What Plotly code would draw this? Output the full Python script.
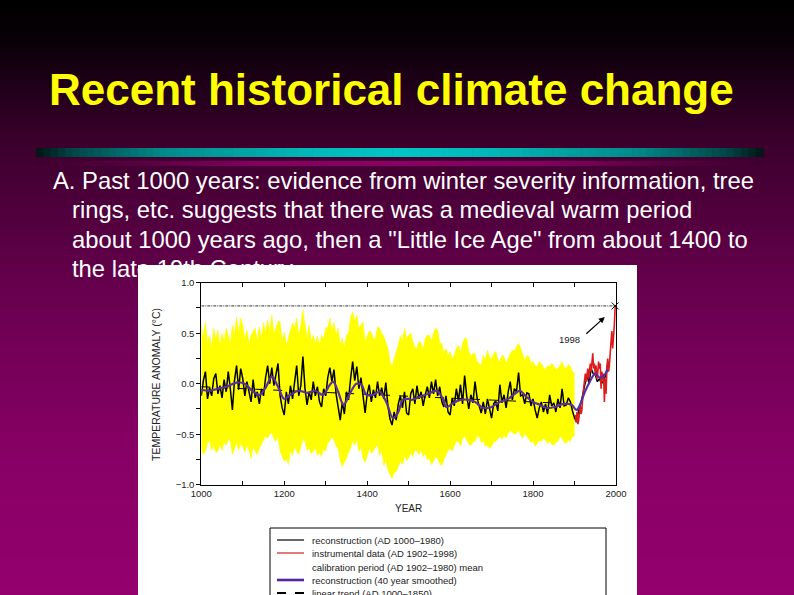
import plotly.graph_objects as go

W, H = 794, 595

# ---------------- data ----------------
recon_years = list(range(1000, 1981, 5))
recon = [
    -0.12, 0.03, 0.12, -0.15, -0.04, -0.12, 0.05, 0.10, -0.10, -0.02,
    -0.14, 0.04, -0.08, 0.12, -0.05, -0.26, 0.03, 0.18, -0.06, 0.15,
    0.05, -0.12, 0.02, -0.10, -0.18, 0.04, -0.14, -0.08, -0.20, -0.05,
    -0.12, 0.06, 0.18, 0.00, 0.16, -0.02, 0.10, 0.20, -0.12, -0.24,
    -0.31, -0.08, -0.20, -0.02, -0.15, 0.05, 0.18, -0.12, -0.02, 0.27,
    -0.05, -0.21, -0.08, -0.16, 0.02, -0.12, -0.03, -0.18, -0.23, -0.05,
    -0.12, 0.06, 0.16, 0.02, 0.14, -0.10, -0.22, -0.36, -0.18, -0.30,
    -0.08, -0.16, 0.05, 0.22, 0.03, 0.17, -0.05, 0.06, -0.12, -0.29,
    -0.10, -0.01, -0.18, -0.06, -0.14, 0.02, -0.12, -0.04, -0.15, 0.01,
    -0.22, -0.35, -0.41, -0.28, -0.36, -0.20, -0.12, -0.24, -0.08, -0.29,
    -0.31, -0.10, -0.05, -0.20, -0.02, -0.15, -0.08, -0.22, -0.11, -0.03,
    -0.14, 0.02, -0.10, 0.04, -0.12, -0.03, -0.18, -0.23, -0.12, -0.28,
    -0.31, -0.14, -0.22, -0.05, -0.17, -0.01, -0.20, 0.08, -0.12, -0.25,
    -0.11, -0.19, 0.02, -0.14, -0.22, -0.29, -0.18, -0.30, -0.15, -0.26,
    -0.34, -0.20, -0.17, -0.27, -0.01, -0.19, -0.11, -0.24, -0.08, 0.02,
    -0.16, -0.05, -0.08, 0.11, -0.12, -0.11, -0.20, -0.09, -0.10, -0.22,
    -0.15, -0.26, -0.34, -0.24, -0.18, -0.28, -0.20, -0.30, -0.11, -0.22,
    -0.19, -0.28, -0.15, -0.24, -0.05, -0.22, -0.21, -0.14, -0.18, -0.27,
    -0.34, -0.38, -0.26, -0.20, -0.11, -0.02, 0.09, 0.00, 0.15, 0.10,
    0.09, 0.02, 0.05, 0.00, 0.03, 0.08, 0.20,
]

band_years = list(range(1000, 1901, 5))
band_upper = [
    0.58, 0.45, 0.61, 0.40, 0.48, 0.36, 0.55, 0.44, 0.53, 0.38,
    0.50, 0.42, 0.55, 0.47, 0.40, 0.58, 0.48, 0.66, 0.50, 0.65,
    0.58, 0.44, 0.53, 0.40, 0.48, 0.52, 0.55, 0.42, 0.56, 0.45,
    0.61, 0.50, 0.63, 0.52, 0.68, 0.50, 0.55, 0.62, 0.61, 0.42,
    0.51, 0.38, 0.45, 0.52, 0.60, 0.55, 0.65, 0.48, 0.58, 0.73,
    0.60, 0.45, 0.58, 0.42, 0.48, 0.40, 0.47, 0.38, 0.48, 0.44,
    0.56, 0.55, 0.65, 0.52, 0.61, 0.48, 0.55, 0.38, 0.45, 0.36,
    0.48, 0.50, 0.66, 0.71, 0.62, 0.68, 0.55, 0.58, 0.61, 0.42,
    0.48, 0.52, 0.51, 0.44, 0.45, 0.56, 0.55, 0.50, 0.47, 0.40,
    0.35, 0.22, 0.17, 0.25, 0.32, 0.38, 0.48, 0.42, 0.55, 0.45,
    0.48, 0.50, 0.42, 0.36, 0.35, 0.42, 0.40, 0.34, 0.45, 0.48,
    0.48, 0.42, 0.50, 0.55, 0.53, 0.40, 0.40, 0.30, 0.35, 0.28,
    0.32, 0.25, 0.28, 0.35, 0.38, 0.30, 0.40, 0.45, 0.45, 0.32,
    0.27, 0.30, 0.30, 0.22, 0.20, 0.18, 0.28, 0.24, 0.33, 0.26,
    0.25, 0.30, 0.32, 0.24, 0.22, 0.28, 0.27, 0.20, 0.25, 0.30,
    0.33, 0.32, 0.37, 0.40, 0.35, 0.28, 0.23, 0.28, 0.27, 0.20,
    0.22, 0.18, 0.17, 0.22, 0.20, 0.16, 0.14, 0.18, 0.17, 0.20,
    0.18, 0.14, 0.15, 0.18, 0.22, 0.16, 0.15, 0.19, 0.17, 0.12,
    0.10,
]
band_lower = [
    -0.64, -0.70, -0.67, -0.58, -0.57, -0.66, -0.61, -0.68, -0.67, -0.60,
    -0.66, -0.58, -0.61, -0.55, -0.57, -0.70, -0.64, -0.58, -0.66, -0.60,
    -0.62, -0.68, -0.61, -0.66, -0.74, -0.62, -0.67, -0.70, -0.64, -0.60,
    -0.57, -0.52, -0.54, -0.50, -0.48, -0.55, -0.57, -0.52, -0.67, -0.72,
    -0.77, -0.74, -0.80, -0.66, -0.71, -0.62, -0.67, -0.70, -0.62, -0.55,
    -0.57, -0.66, -0.64, -0.69, -0.67, -0.64, -0.71, -0.68, -0.72, -0.64,
    -0.67, -0.58, -0.57, -0.52, -0.56, -0.62, -0.64, -0.76, -0.82, -0.78,
    -0.74, -0.68, -0.64, -0.56, -0.61, -0.55, -0.67, -0.62, -0.74, -0.78,
    -0.71, -0.64, -0.69, -0.66, -0.64, -0.60, -0.71, -0.66, -0.81, -0.76,
    -0.85, -0.90, -0.94, -0.88, -0.87, -0.82, -0.77, -0.80, -0.71, -0.76,
    -0.74, -0.68, -0.72, -0.66, -0.67, -0.70, -0.66, -0.72, -0.69, -0.75,
    -0.74, -0.80, -0.77, -0.72, -0.74, -0.79, -0.81, -0.75, -0.71, -0.66,
    -0.64, -0.67, -0.61, -0.57, -0.57, -0.62, -0.54, -0.52, -0.56, -0.60,
    -0.61, -0.58, -0.57, -0.52, -0.52, -0.58, -0.57, -0.62, -0.61, -0.64,
    -0.62, -0.58, -0.57, -0.54, -0.52, -0.55, -0.51, -0.54, -0.49, -0.46,
    -0.48, -0.50, -0.49, -0.46, -0.51, -0.54, -0.49, -0.52, -0.54, -0.58,
    -0.57, -0.62, -0.59, -0.56, -0.57, -0.54, -0.56, -0.59, -0.57, -0.60,
    -0.61, -0.58, -0.57, -0.52, -0.54, -0.58, -0.59, -0.56, -0.57, -0.52,
    -0.52,
]

smooth_years = [1000, 1020, 1040, 1060, 1085, 1105, 1120, 1140, 1155, 1170,
                1185, 1200, 1215, 1235, 1255, 1275, 1293, 1310, 1318, 1330,
                1343, 1358, 1374, 1386, 1398, 1414, 1430, 1446, 1462, 1474,
                1486, 1500, 1507, 1527, 1547, 1567, 1580, 1591, 1608, 1625,
                1645, 1660, 1680, 1700, 1720, 1740, 1756, 1768, 1784, 1800,
                1817, 1833, 1853, 1873, 1893, 1905, 1913, 1925, 1937, 1950,
                1961, 1973, 1980]
smooth = [-0.06, -0.07, -0.05, -0.03, 0.01, 0.00, -0.06, -0.11, -0.04, 0.07,
          -0.03, -0.15, -0.11, -0.07, -0.09, -0.07, -0.11, -0.01, 0.02, -0.08,
          -0.21, -0.10, 0.00, -0.01, -0.11, -0.11, -0.08, -0.18, -0.34, -0.29,
          -0.16, -0.15, -0.16, -0.13, -0.10, -0.07, -0.13, -0.23, -0.19, -0.16,
          -0.16, -0.18, -0.24, -0.23, -0.18, -0.15, -0.10, -0.07, -0.13, -0.18,
          -0.21, -0.24, -0.23, -0.20, -0.21, -0.26, -0.21, -0.08, 0.02, 0.10,
          0.06, 0.09, 0.14]

instr_years = list(range(1902, 1999, 2))
instr = [
    -0.31, -0.38, -0.28, -0.40, -0.36, -0.30, -0.22, -0.30, -0.25, -0.12,
    -0.05, 0.05, 0.10, 0.02, 0.08, 0.15, 0.05, 0.12, 0.20, 0.12,
    0.25, 0.30, 0.15, 0.20, 0.08, 0.18, 0.05, 0.10, 0.22, 0.15,
    0.20, -0.05, 0.12, 0.02, 0.10, -0.18, 0.05, -0.10, 0.15, 0.25,
    0.12, 0.18, 0.30, 0.40, 0.52, 0.35, 0.45, 0.58, 0.77,
]

trend_years = [1000, 1850]
trend = [-0.03, -0.19]

level_years = [1000, 2000]
level_1998 = 0.77
peak_year = 1998

x_ticks = [1000, 1200, 1400, 1600, 1800, 2000]
x_ticktext = ["1000", "1200", "1400", "1600", "1800", "2000"]
y_ticks = [-1.0, -0.5, 0.0, 0.5, 1.0]
y_ticktext = ["\u22121.0", "\u22120.5", "0.0", "0.5", "1.0"]

title_text = "Recent historical climate change"
body_lines = [
    "A. Past 1000 years: evidence from winter severity information, tree",
    "rings, etc. suggests that there was a medieval warm period",
    "about 1000 years ago, then a \"Little Ice Age\" from about 1400 to",
    "the late 19th Century",
]
legend_labels = [
    "reconstruction (AD 1000\u20131980)",
    "instrumental data (AD 1902\u20131998)",
    "calibration period (AD 1902\u20131980) mean",
    "reconstruction (40 year smoothed)",
    "linear trend (AD 1000\u20131850)",
]

# ---------------- helpers ----------------
def px(x):
    return x / W


def py(y):
    return 1 - y / H


def interp_color(stops, t):
    for (t0, c0), (t1, c1) in zip(stops[:-1], stops[1:]):
        if t0 <= t <= t1:
            f = 0 if t1 == t0 else (t - t0) / (t1 - t0)
            c = [round(a + (b - a) * f) for a, b in zip(c0, c1)]
            return "rgb(%d,%d,%d)" % tuple(c)
    c = stops[-1][1] if t > stops[-1][0] else stops[0][1]
    return "rgb(%d,%d,%d)" % tuple(c)


FONT = "Liberation Sans, Arial, sans-serif"
shapes = []

# slide background gradient
bg_stops = [(0, (0, 0, 0)), (40, (8, 0, 6)), (100, (38, 0, 30)), (150, (62, 0, 46)),
            (300, (106, 0, 80)), (450, (135, 0, 100)), (595, (148, 0, 110))]
step = 4
for y in range(0, H, step):
    shapes.append(dict(type="rect", xref="paper", yref="paper", x0=0, x1=1,
                       y0=py(y + step + 1), y1=py(y), fillcolor=interp_color(bg_stops, y + step / 2),
                       line=dict(width=0), layer="below"))

# cyan divider bar
bx0, bx1 = 36, 763
cyan_stops = [(0, (0, 20, 20)), (0.05, (0, 70, 70)), (0.18, (0, 140, 140)), (0.38, (0, 185, 185)),
              (0.5, (0, 198, 198)), (0.62, (0, 185, 185)), (0.82, (0, 140, 140)), (0.95, (0, 70, 70)),
              (1, (0, 20, 20))]
nseg = 100
segw = (bx1 - bx0) / nseg
for i in range(nseg):
    x0 = bx0 + i * segw
    shapes.append(dict(type="rect", xref="paper", yref="paper", x0=px(x0), x1=px(x0 + segw + 0.6),
                       y0=py(157), y1=py(148), fillcolor=interp_color(cyan_stops, (i + 0.5) / nseg),
                       line=dict(width=0), layer="below"))
# magenta glow below it
mag_stops = [(0, (62, 0, 46)), (0.15, (90, 0, 66)), (0.3, (130, 0, 95)), (0.5, (140, 0, 100)),
             (0.7, (130, 0, 95)), (0.85, (90, 0, 66)), (1, (62, 0, 46))]
for i in range(nseg):
    x0 = bx0 + i * segw
    shapes.append(dict(type="rect", xref="paper", yref="paper", x0=px(x0), x1=px(x0 + segw + 0.6),
                       y0=py(166), y1=py(161), fillcolor=interp_color(mag_stops, (i + 0.5) / nseg),
                       line=dict(width=0), layer="below"))

# legend box (manual)
shapes.append(dict(type="rect", xref="paper", yref="paper", x0=px(270), x1=px(606),
                   y0=py(620), y1=py(528), line=dict(color="black", width=1),
                   fillcolor="rgba(0,0,0,0)", layer="above"))
legend_rows = [540, 553, 567, 580, 593]
legend_styles = [dict(color="black", width=1.2), dict(color="#cc2222", width=1.2), None,
                 dict(color="#5526a0", width=2.6), dict(color="black", width=2, dash="dash")]
annotations = []
for yy, sty, lab in zip(legend_rows, legend_styles, legend_labels):
    if sty is not None:
        shapes.append(dict(type="line", xref="paper", yref="paper", x0=px(277), x1=px(304),
                           y0=py(yy), y1=py(yy), line=sty, layer="above"))
    annotations.append(dict(xref="paper", yref="paper", x=px(310), y=py(yy), text=lab,
                            showarrow=False, xanchor="left", yanchor="middle",
                            font=dict(family=FONT, size=9.5, color="#222")))

# title
annotations.append(dict(xref="paper", yref="paper", x=px(47), y=py(89), text="<b>%s</b>" % title_text,
                        showarrow=False, xanchor="left", yanchor="middle",
                        font=dict(family=FONT, size=44, color="#ffff00")))
# axis titles
annotations.append(dict(xref="paper", yref="paper", x=px(408), y=py(508), text="YEAR",
                        showarrow=False, xanchor="center", yanchor="middle",
                        font=dict(family=FONT, size=10, color="#222")))
annotations.append(dict(xref="paper", yref="paper", x=px(156), y=py(385),
                        text="TEMPERATURE ANOMALY (\u00b0C)", textangle=-90,
                        showarrow=False, xanchor="center", yanchor="middle",
                        font=dict(family=FONT, size=10.5, color="#222")))
# 1998 label and arrow
annotations.append(dict(xref="x3", yref="y3", x=1887, y=0.44, text="1998", showarrow=False,
                        xanchor="center", yanchor="middle",
                        font=dict(family=FONT, size=9.5, color="#222")))
annotations.append(dict(xref="x3", yref="y3", x=1973, y=0.66, text="", showarrow=True,
                        ax=-20, ay=18, arrowhead=2, arrowsize=1, arrowwidth=1.2,
                        arrowcolor="black"))

# ---------------- figure ----------------
fig = go.Figure()

# slide body text (drawn under the picture panel)
fig.add_trace(go.Scatter(x=[53, 72, 72, 72], y=[183, 212, 242, 271], text=body_lines,
                         mode="text", textposition="middle right",
                         textfont=dict(family=FONT, size=23.8, color="white"),
                         hoverinfo="skip", showlegend=False, cliponaxis=False,
                         xaxis="x", yaxis="y"))

# white picture panel
fig.add_trace(go.Heatmap(z=[[1]], x=[0], y=[0], colorscale=[[0, "white"], [1, "white"]],
                         showscale=False, hoverinfo="skip", xaxis="x2", yaxis="y2"))

# uncertainty band
fig.add_trace(go.Scatter(x=band_years, y=band_upper, mode="lines",
                         line=dict(color="#ffff00", width=0.6), hoverinfo="skip",
                         showlegend=False, xaxis="x3", yaxis="y3"))
fig.add_trace(go.Scatter(x=band_years, y=band_lower, mode="lines", fill="tonexty",
                         fillcolor="#ffff00", line=dict(color="#ffff00", width=0.6),
                         hoverinfo="skip", showlegend=False, xaxis="x3", yaxis="y3"))
# linear trend
fig.add_trace(go.Scatter(x=trend_years, y=trend, mode="lines",
                         line=dict(color="black", width=1, dash="dash"),
                         showlegend=False, xaxis="x3", yaxis="y3"))
# reconstruction
fig.add_trace(go.Scatter(x=recon_years, y=recon, mode="lines",
                         line=dict(color="black", width=1.5),
                         showlegend=False, xaxis="x3", yaxis="y3"))
# instrumental
fig.add_trace(go.Scatter(x=instr_years, y=instr, mode="lines",
                         line=dict(color="#dd1c1c", width=1.6),
                         showlegend=False, xaxis="x3", yaxis="y3"))
# smoothed
fig.add_trace(go.Scatter(x=smooth_years, y=smooth, mode="lines", line_shape="spline",
                         line=dict(color="#5a30a0", width=2.2),
                         showlegend=False, xaxis="x3", yaxis="y3"))
# 1998 level
fig.add_trace(go.Scatter(x=level_years, y=[level_1998, level_1998], mode="lines",
                         line=dict(color="black", width=0.8, dash="3px,1px,1px,1px"),
                         showlegend=False, xaxis="x3", yaxis="y3"))
fig.add_trace(go.Scatter(x=[peak_year], y=[level_1998], mode="markers",
                         marker=dict(symbol="x-thin", size=7, line=dict(color="black", width=1)),
                         showlegend=False, xaxis="x3", yaxis="y3", cliponaxis=False))

tickfont = dict(family=FONT, size=9.5, color="#222")
fig.update_layout(
    width=W, height=H,
    margin=dict(l=0, r=0, t=0, b=0, autoexpand=False),
    paper_bgcolor="black",
    plot_bgcolor="rgba(0,0,0,0)",
    showlegend=False,
    hovermode=False,
    shapes=shapes,
    annotations=annotations,
    xaxis=dict(domain=[0, 1], range=[0, W], visible=False, fixedrange=True),
    yaxis=dict(domain=[0, 1], range=[H, 0], visible=False, fixedrange=True),
    xaxis2=dict(domain=[px(138), px(637)], range=[-0.5, 0.5], visible=False, anchor="y2"),
    yaxis2=dict(domain=[0, py(265)], range=[-0.5, 0.5], visible=False, anchor="x2"),
    xaxis3=dict(domain=[px(201.3), px(616)], range=[1000, 2000], anchor="y3",
                tickmode="array", tickvals=x_ticks, ticktext=x_ticktext,
                ticks="inside", ticklen=4, tickcolor="black", tickfont=tickfont,
                minor=dict(dtick=100, tick0=1000, ticks="inside", ticklen=4, tickcolor="black"),
                showline=True, linecolor="black", linewidth=1, mirror="ticks",
                showgrid=False, zeroline=False),
    yaxis3=dict(domain=[py(484.7), py(282.7)], range=[-1, 1], anchor="x3",
                tickmode="array", tickvals=y_ticks, ticktext=y_ticktext,
                ticks="outside", ticklen=4, tickcolor="black", tickfont=tickfont,
                minor=dict(dtick=0.25, tick0=0, ticks="outside", ticklen=4, tickcolor="black"),
                showline=True, linecolor="black", linewidth=1, mirror=True,
                showgrid=False, zeroline=False),
)

fig.write_html(
    "out.html",
    config={"displayModeBar": False},
    post_script="document.body.style.margin='0';document.body.style.padding='0';"
                "document.documentElement.style.overflow='hidden';",
)
